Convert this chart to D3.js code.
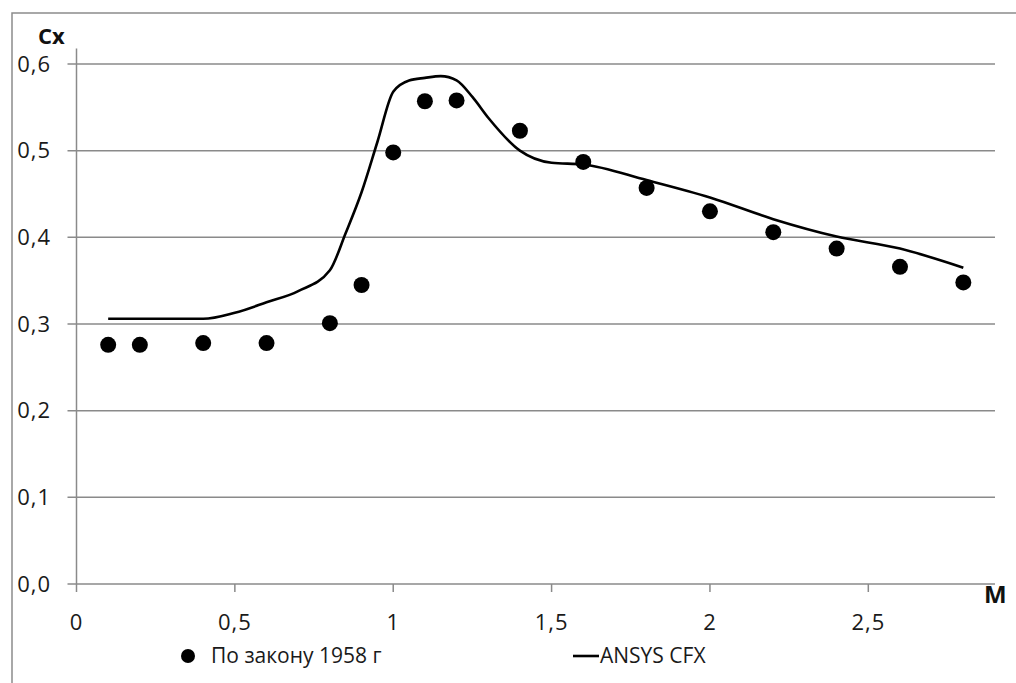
<!DOCTYPE html>
<html>
<head>
<meta charset="utf-8">
<script src="https://cdn.jsdelivr.net/npm/d3@7"></script>
<style>
  body { margin: 0; background: #fff; }
  svg { display: block; font-family: "Open Sans", "DejaVu Sans", sans-serif; }
</style>
</head>
<body>
<svg id="chart" width="1016" height="683"></svg>
<script>
// points "По закону 1958 г"
const lawM = [0.1, 0.2, 0.4, 0.6, 0.8, 0.9, 1.0, 1.1, 1.2, 1.4, 1.6, 1.8, 2.0, 2.2, 2.4, 2.6, 2.8]
const lawCx = [0.276, 0.276, 0.278, 0.278, 0.301, 0.345, 0.498, 0.557, 0.558, 0.523, 0.487, 0.457, 0.430, 0.406, 0.387, 0.366, 0.348]

// line "ANSYS CFX"
const cfxM = [0.1, 0.2, 0.4, 0.5, 0.6, 0.7, 0.8, 0.85, 0.9, 0.95, 1.0, 1.05, 1.1, 1.15, 1.2, 1.25, 1.3, 1.4, 1.5, 1.6, 1.8, 2.0, 2.2, 2.4, 2.6, 2.8]
const cfxCx = [0.306, 0.306, 0.306, 0.313, 0.325, 0.338, 0.362, 0.405, 0.452, 0.51, 0.568, 0.581, 0.584, 0.586, 0.581, 0.562, 0.538, 0.500, 0.486, 0.484, 0.466, 0.446, 0.421, 0.401, 0.387, 0.365]

const xTicks = [0, 0.5, 1, 1.5, 2, 2.5]
const yTicks = [0, 0.1, 0.2, 0.3, 0.4, 0.5, 0.6]

const fmt = d => String(d).replace(".", ",")
const fmtY = d => d.toFixed(1).replace(".", ",")

const dims = { left: 76.5, right: 995, top: 64, bottom: 584 }

const svg = d3.select("#chart")

const x = d3.scaleLinear().domain([0, 2.9]).range([dims.left, dims.right])
const y = d3.scaleLinear().domain([0, 0.6]).range([dims.bottom, dims.top])

// outer frame
svg.append("path")
  .attr("d", "M12,683 L12,13 L1016,13")
  .attr("fill", "none").attr("stroke", "#8c8c8c").attr("stroke-width", 1.5)

// gridlines
svg.append("g").selectAll("line").data(yTicks).join("line")
  .attr("x1", dims.left - 9).attr("x2", dims.right)
  .attr("y1", d => y(d)).attr("y2", d => y(d))
  .attr("stroke", "#8a8a8a").attr("stroke-width", 1.5)

// y axis line
svg.append("line")
  .attr("x1", dims.left).attr("x2", dims.left)
  .attr("y1", y(0.618)).attr("y2", y(0))
  .attr("stroke", "#8a8a8a").attr("stroke-width", 1.5)

// x ticks
svg.append("g").selectAll("line").data(xTicks).join("line")
  .attr("x1", d => x(d)).attr("x2", d => x(d))
  .attr("y1", y(0)).attr("y2", y(0) + 8)
  .attr("stroke", "#8a8a8a").attr("stroke-width", 1.5)

svg.append("g").selectAll("text").data(xTicks).join("text")
  .attr("x", d => x(d)).attr("y", 630)
  .attr("text-anchor", "middle")
  .attr("font-size", 22).attr("letter-spacing", 1).attr("fill", "#1a1a1a")
  .text(fmt)

svg.append("g").selectAll("text").data(yTicks).join("text")
  .attr("x", 51).attr("y", d => y(d) + 7.5)
  .attr("text-anchor", "end")
  .attr("font-size", 22).attr("letter-spacing", 1).attr("fill", "#1a1a1a")
  .text(fmtY)

svg.append("text").attr("x", 38).attr("y", 44)
  .attr("font-size", 22).attr("font-weight", "bold").attr("fill", "#111")
  .text("Cx")

svg.append("text").attr("x", 984).attr("y", 603)
  .attr("font-size", 24).attr("font-weight", "bold").attr("fill", "#111")
  .text("M")

// ANSYS CFX line
const cfx = cfxM.map((m, i) => [m, cfxCx[i]])
const line = d3.line().x(d => x(d[0])).y(d => y(d[1])).curve(d3.curveMonotoneX)
svg.append("path")
  .attr("d", line(cfx))
  .attr("fill", "none").attr("stroke", "#000").attr("stroke-width", 2.6)

// 1958 law points
const law = lawM.map((m, i) => [m, lawCx[i]])
svg.append("g").selectAll("circle").data(law).join("circle")
  .attr("cx", d => x(d[0])).attr("cy", d => y(d[1]))
  .attr("r", 8).attr("fill", "#000")

// legend
const legend = svg.append("g")
legend.append("circle").attr("cx", 188).attr("cy", 656).attr("r", 7).attr("fill", "#000")
legend.append("text").attr("x", 211).attr("y", 663)
  .attr("font-size", 21).attr("fill", "#1a1a1a").text("По закону 1958 г")
legend.append("line").attr("x1", 573).attr("x2", 599).attr("y1", 656).attr("y2", 656)
  .attr("stroke", "#000").attr("stroke-width", 2.6)
legend.append("text").attr("x", 600).attr("y", 663)
  .attr("font-size", 21).attr("fill", "#1a1a1a").text("ANSYS CFX")
</script>
</body>
</html>
